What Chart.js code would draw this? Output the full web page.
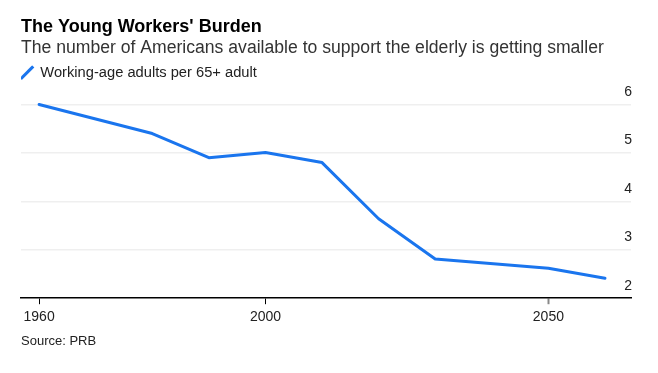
<!DOCTYPE html>
<html>
<head>
<meta charset="utf-8">
<script src="https://cdn.jsdelivr.net/npm/chart.js@4/dist/chart.umd.min.js"></script>
<style>
  html, body { margin: 0; padding: 0; background: #fff; }
  #wrap { position: relative; width: 658px; height: 373px; }
  #source { position: absolute; left: 21px; top: 333px; font: 13px "Liberation Sans", Arial, sans-serif; color: #222; }
</style>
</head>
<body>
<div id="wrap">
  <canvas id="chart" width="658" height="373"></canvas>
  <div id="source">Source: PRB</div>
</div>
<script>
// data
const years = [1960, 1980, 1990, 2000, 2010, 2020, 2030, 2050, 2060];
const ratio = [6.0, 5.4, 4.9, 5.01, 4.8, 3.64, 2.81, 2.62, 2.41];
const xTicks = [1960, 2000, 2050];
const yTicks = [2, 3, 4, 5, 6];
const seriesLabel = 'Working-age adults per 65+ adult';

const FONT = '"Liberation Sans", Arial, sans-serif';
const BLUE = '#1a75ee';

const points = years.map((y, i) => ({ x: y, y: ratio[i] }));

new Chart(document.getElementById('chart'), {
  type: 'line',
  data: {
    datasets: [{
      label: seriesLabel,
      data: points,
      borderColor: BLUE,
      backgroundColor: BLUE,
      borderWidth: 3,
      pointRadius: 0,
      pointStyle: 'line',
      pointRotation: -45,
      borderJoinStyle: 'round',
      borderCapStyle: 'round',
      tension: 0,
      clip: false
    }]
  },
  options: {
    responsive: false,
    animation: false,
    layout: { padding: { left: 21, right: 25, top: 0, bottom: 42 } },
    plugins: {
      title: {
        display: true, text: "The Young Workers' Burden", align: 'start', color: '#000',
        font: { family: FONT, size: 18, weight: 'bold' }, padding: { top: 16, bottom: 0 }
      },
      subtitle: {
        display: true, text: 'The number of Americans available to support the elderly is getting smaller',
        align: 'start', color: '#333',
        font: { family: FONT, size: 17.6 }, padding: { top: 0, bottom: 6.5 }
      },
      legend: {
        display: true, position: 'top', align: 'start',
        labels: {
          usePointStyle: true, boxWidth: 12, boxHeight: 12.5, padding: 0,
          color: '#222', font: { family: FONT, size: 14.7 }
        }
      },
      tooltip: { enabled: false }
    },
    scales: {
      x: {
        type: 'linear', min: 1956.8, max: 2064.6,
        afterBuildTicks: (axis) => { axis.ticks = xTicks.map(v => ({ value: v })); },
        border: { display: true, color: '#000', width: 1.5 },
        grid: {
          drawOnChartArea: false, drawTicks: true, tickLength: 6,
          tickColor: (ctx) => ctx.tick && ctx.tick.value === 2050 ? '#888' : '#000',
          tickWidth: (ctx) => ctx.tick && ctx.tick.value === 2050 ? 2 : 1
        },
        ticks: {
          color: '#222', font: { family: FONT, size: 14 }, padding: 5, maxRotation: 0,
          callback: (v) => String(v)
        }
      },
      y: {
        position: 'right', min: 2, max: 6.3,
        afterBuildTicks: (axis) => { axis.ticks = yTicks.map(v => ({ value: v })); },
        border: { display: false },
        grid: {
          drawTicks: false, lineWidth: 1.5,
          color: (ctx) => ctx.tick && ctx.tick.value === 2 ? 'rgba(0,0,0,0)' : '#efefef'
        },
        ticks: {
          mirror: true, padding: 1, labelOffset: -12.5,
          color: '#222', font: { family: FONT, size: 14 }
        }
      }
    }
  }
});
</script>
</body>
</html>
